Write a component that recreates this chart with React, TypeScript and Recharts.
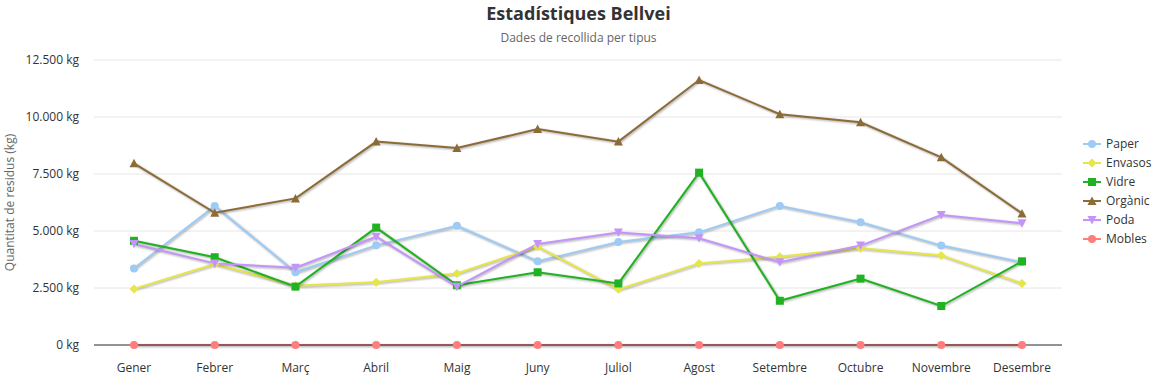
import type { FC } from 'react';
import { LineChart, Line, XAxis, YAxis, CartesianGrid } from 'recharts';

const months = [
  'Gener', 'Febrer', 'Març', 'Abril', 'Maig', 'Juny',
  'Juliol', 'Agost', 'Setembre', 'Octubre', 'Novembre', 'Desembre',
];
const paper = [3360, 6100, 3190, 4370, 5230, 3670, 4520, 4940, 6100, 5380, 4360, 3630];
const envasos = [2460, 3550, 2600, 2750, 3140, 4310, 2440, 3580, 3870, 4240, 3930, 2700];
const vidre = [4570, 3850, 2560, 5150, 2620, 3190, 2700, 7560, 1940, 2910, 1710, 3670];
const organic = [7970, 5800, 6430, 8920, 8640, 9470, 8920, 11620, 10120, 9770, 8230, 5770];
const poda = [4430, 3580, 3390, 4750, 2560, 4430, 4930, 4680, 3630, 4360, 5700, 5340];
const mobles = [0, 0, 0, 0, 0, 0, 0, 0, 0, 0, 0, 0];
const yTicks = [0, 2500, 5000, 7500, 10000, 12500];

const series = [
  { key: 'paper', name: 'Paper', color: '#9dcbf5', shape: 'circle', values: paper },
  { key: 'envasos', name: 'Envasos', color: '#e6e646', shape: 'diamond', values: envasos },
  { key: 'vidre', name: 'Vidre', color: '#20b220', shape: 'square', values: vidre },
  { key: 'organic', name: 'Orgànic', color: '#8c6b37', shape: 'triangle', values: organic },
  { key: 'poda', name: 'Poda', color: '#c494fb', shape: 'triangleDown', values: poda },
  { key: 'mobles', name: 'Mobles', color: '#ff7d7d', shape: 'circle', values: mobles },
];

const data = months.map((m, i) => {
  const row: Record<string, string | number> = { month: m };
  series.forEach((s) => {
    row[s.key] = s.values[i];
  });
  return row;
});

const FONT = '"Open Sans", "Noto Sans", sans-serif';

const fmt = (v: number) => `${String(v).replace(/\B(?=(\d{3})+(?!\d))/g, '.')} kg`;

const Marker: FC<{ cx: number; cy: number; shape: string; color: string }> = ({ cx, cy, shape, color }) => {
  if (shape === 'square') {
    return <rect x={cx - 4} y={cy - 4} width={8} height={8} fill={color} />;
  }
  if (shape === 'diamond') {
    return <path d={`M${cx},${cy - 4.5}L${cx + 4.5},${cy}L${cx},${cy + 4.5}L${cx - 4.5},${cy}Z`} fill={color} />;
  }
  if (shape === 'triangle') {
    return <path d={`M${cx},${cy - 4.5}L${cx + 4.5},${cy + 4}L${cx - 4.5},${cy + 4}Z`} fill={color} />;
  }
  if (shape === 'triangleDown') {
    return <path d={`M${cx - 4.5},${cy - 4}L${cx + 4.5},${cy - 4}L${cx},${cy + 4.5}Z`} fill={color} />;
  }
  return <circle cx={cx} cy={cy} r={4} fill={color} />;
};

const App: FC = () => {
  return (
    <div style={{ position: 'relative', width: 1157, height: 377, fontFamily: FONT, background: '#fff' }}>
      <style>{`body{margin:0}.recharts-line-curve{filter:drop-shadow(1px 1px 1.2px rgba(0,0,0,0.35))}`}</style>
      <div
        style={{
          position: 'absolute', top: 1, left: 0, width: 1157, textAlign: 'center',
          fontSize: 18, fontWeight: 700, color: '#333',
        }}
      >
        Estadístiques Bellvei
      </div>
      <div
        style={{
          position: 'absolute', top: 29, left: 0, width: 1157, textAlign: 'center',
          fontSize: 12, color: '#666',
        }}
      >
        Dades de recollida per tipus
      </div>
      <LineChart
        width={1157}
        height={377}
        data={data}
        margin={{ top: 60, right: 95, bottom: 2, left: 0 }}
      >
        <CartesianGrid vertical={false} stroke="#e6e6e6" />
        <XAxis
          dataKey="month"
          height={30}
          padding={{ left: 40, right: 40 }}
          tickLine={false}
          tickMargin={12}
          axisLine={{ stroke: '#333', strokeWidth: 1 }}
          tick={{ fontSize: 12, fill: '#333', fontFamily: FONT }}
        />
        <YAxis
          width={94}
          domain={[0, 12500]}
          ticks={yTicks}
          tickFormatter={fmt}
          tickLine={false}
          tickMargin={9}
          axisLine={false}
          tick={{ fontSize: 12, fill: '#333', fontFamily: FONT }}
          label={{
            value: 'Quantitat de residus (kg)',
            angle: -90,
            position: 'insideLeft',
            offset: 10,
            style: { textAnchor: 'middle', fontSize: 12, fill: '#666', fontFamily: FONT },
          }}
        />
        {series.map((s) => (
          <Line
            key={s.key}
            dataKey={s.key}
            name={s.name}
            stroke={s.color}
            strokeWidth={2}
            isAnimationActive={false}
            dot={(p: any) => (
              <Marker key={`${s.key}-${p.index}`} cx={p.cx} cy={p.cy} shape={s.shape} color={s.color} />
            )}
            activeDot={false}
          />
        ))}
      </LineChart>
      <div style={{ position: 'absolute', left: 1082, top: 134 }}>
        {series.map((s) => (
          <div key={s.key} style={{ display: 'flex', alignItems: 'center', height: 19, fontSize: 12, color: '#333' }}>
            <svg width={20} height={12} style={{ marginRight: 4 }}>
              <line x1={1} y1={6} x2={19} y2={6} stroke={s.color} strokeWidth={2} />
              <Marker cx={10} cy={6} shape={s.shape} color={s.color} />
            </svg>
            {s.name}
          </div>
        ))}
      </div>
    </div>
  );
};

export default App;
